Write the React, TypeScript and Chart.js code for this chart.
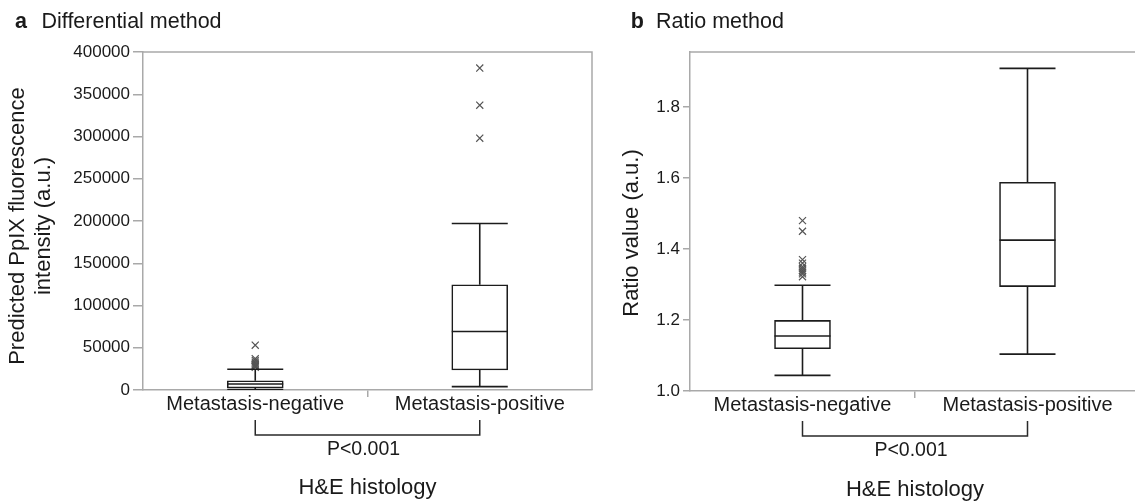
import React, { useEffect, useRef } from 'react';
import { Chart, registerables } from 'chart.js';

Chart.register(...registerables);

// ---------- data ----------
const categories = ['Metastasis-negative', 'Metastasis-positive'];

// Panel a: Differential method (predicted PpIX fluorescence intensity)
const diffWhiskerLow = [500, 4000];
const diffQ1 = [2400, 23700];
const diffMedian = [7100, 69200];
const diffQ3 = [11000, 124600];
const diffWhiskerHigh = [24500, 197000];
const diffOutliersNeg = [53000, 37000, 35000, 33000, 31500, 30000, 29000, 28000, 27000];
const diffOutliersPos = [381000, 337000, 298000];
const diffYTicks = [0, 50000, 100000, 150000, 200000, 250000, 300000, 350000, 400000];

// Panel b: Ratio method
const ratioWhiskerLow = [1.044, 1.104];
const ratioQ1 = [1.119, 1.294];
const ratioMedian = [1.155, 1.425];
const ratioQ3 = [1.199, 1.588];
const ratioWhiskerHigh = [1.298, 1.909];
const ratioOutliersNeg = [1.48, 1.45, 1.37, 1.36, 1.35, 1.345, 1.34, 1.335, 1.33, 1.322];
const ratioOutliersPos: number[] = [];
const ratioYTicks = [1.0, 1.2, 1.4, 1.6, 1.8];

const pValueText = 'P<0.001';
const xTitle = 'H&E histology';

// ---------- style ----------
const FONT = "'Liberation Sans', Arial, Helvetica, sans-serif";
const AXIS = '#a9a9a9';
const BOX = '#1c1c1c';
const OUT = '#555555';
const TEXT = '#1a1a1a';

type Panel = {
  lo: number[]; q1: number[]; med: number[]; q3: number[]; hi: number[];
  outNeg: number[]; outPos: number[];
  yTicks: number[]; yMin: number; yMax: number; fmt: (v: number) => string;
  letter: string; title: string; letterX: number; titleX: number;
  yTitle: string[]; yTitleX: number[]; yTitleY: number;
  width: number; yAxisWidth: number; xAxisHeight: number; padRight: number;
  tickLen: number; xTitlePad: number;
};

function buildDatasets(p: Panel): any[] {
  const ds: any[] = [];
  ds.push({
    type: 'bar',
    data: categories.map((_, i) => [p.q1[i], p.q3[i]]),
    backgroundColor: '#ffffff',
    borderColor: BOX,
    borderWidth: 1.6,
    borderSkipped: false,
    barThickness: 56,
    order: 5,
  });
  categories.forEach((c, i) => {
    ds.push({
      type: 'line',
      data: [{ x: c, y: p.q3[i] }, { x: c, y: p.hi[i] }],
      borderColor: BOX, borderWidth: 1.6, pointRadius: 0, order: 2,
    });
    ds.push({
      type: 'line',
      data: [{ x: c, y: p.lo[i] }, { x: c, y: p.q1[i] }],
      borderColor: BOX, borderWidth: 1.6, pointRadius: 0, order: 2,
    });
  });
  ds.push({
    type: 'line',
    showLine: false,
    data: categories.flatMap((c, i) => [
      { x: c, y: p.lo[i] }, { x: c, y: p.hi[i] }, { x: c, y: p.med[i] },
    ]),
    pointStyle: 'line',
    pointRadius: 28,
    pointHoverRadius: 28,
    pointBorderWidth: 1.6,
    pointBorderColor: BOX,
    order: 0,
  });
  ds.push({
    type: 'line',
    showLine: false,
    data: [
      ...p.outNeg.map((v) => ({ x: categories[0], y: v })),
      ...p.outPos.map((v) => ({ x: categories[1], y: v })),
    ],
    pointStyle: 'crossRot',
    pointRadius: 5,
    pointBorderWidth: 1.2,
    pointBorderColor: OUT,
    order: 0,
  });
  return ds;
}

function decorPlugin(p: Panel) {
  return {
    id: 'decor',
    afterDraw(chart: any) {
      const { ctx, chartArea: a, scales } = chart;
      ctx.save();
      // frame (top and right)
      ctx.strokeStyle = AXIS;
      ctx.lineWidth = 1.5;
      ctx.beginPath();
      ctx.moveTo(a.left, a.top);
      ctx.lineTo(a.right, a.top);
      ctx.lineTo(a.right, a.bottom);
      ctx.stroke();
      // significance bracket
      const x0 = scales.x.getPixelForValue(0);
      const x1 = scales.x.getPixelForValue(1);
      const yT = a.bottom + 30;
      const yB = a.bottom + 45;
      ctx.strokeStyle = '#2a2a2a';
      ctx.lineWidth = 1.5;
      ctx.beginPath();
      ctx.moveTo(x0, yT);
      ctx.lineTo(x0, yB);
      ctx.lineTo(x1, yB);
      ctx.lineTo(x1, yT);
      ctx.stroke();
      ctx.fillStyle = TEXT;
      ctx.font = `19.5px ${FONT}`;
      ctx.textAlign = 'center';
      ctx.textBaseline = 'middle';
      ctx.fillText(pValueText, (x0 + x1) / 2 - 4, a.bottom + 60);
      // panel heading
      ctx.textAlign = 'left';
      ctx.textBaseline = 'alphabetic';
      ctx.font = `bold 21.5px ${FONT}`;
      ctx.fillText(p.letter, p.letterX, 28);
      ctx.font = `21.5px ${FONT}`;
      ctx.fillText(p.title, p.titleX, 28);
      // y-axis title
      ctx.font = `22px ${FONT}`;
      ctx.textAlign = 'center';
      ctx.textBaseline = 'middle';
      p.yTitle.forEach((line, i) => {
        ctx.save();
        ctx.translate(p.yTitleX[i], p.yTitleY);
        ctx.rotate(-Math.PI / 2);
        ctx.fillText(line, 0, 0);
        ctx.restore();
      });
      ctx.restore();
    },
  };
}

function BoxPanel({ p, left }: { p: Panel; left: number }) {
  const ref = useRef<HTMLCanvasElement | null>(null);
  useEffect(() => {
    if (!ref.current) return;
    const chart = new Chart(ref.current, {
      type: 'bar',
      data: { labels: categories, datasets: buildDatasets(p) },
      options: {
        animation: false,
        responsive: false,
        devicePixelRatio: 1,
        events: [],
        layout: { autoPadding: false, padding: { top: 52, right: p.padRight, left: 0, bottom: 0 } },
        plugins: { legend: { display: false }, tooltip: { enabled: false } },
        scales: {
          x: {
            type: 'category',
            offset: true,
            afterFit: (s: any) => {
              s.height = p.xAxisHeight;
              s.paddingLeft = 0;
              s.paddingRight = 0;
            },
            border: { display: true, color: AXIS, width: 1.5 },
            grid: {
              offset: true,
              drawOnChartArea: false,
              drawTicks: true,
              tickLength: 7,
              lineWidth: 1.5,
              color: (c: any) => (c.index === 1 ? AXIS : 'rgba(0,0,0,0)'),
            },
            ticks: {
              color: TEXT,
              padding: -5,
              maxRotation: 0,
              autoSkip: false,
              font: { family: FONT, size: 20 },
            },
            title: {
              display: true,
              text: xTitle,
              color: TEXT,
              font: { family: FONT, size: 22 },
              padding: { top: 0, bottom: p.xTitlePad },
            },
          },
          y: {
            type: 'linear',
            min: p.yMin,
            max: p.yMax,
            afterFit: (s: any) => {
              s.width = p.yAxisWidth;
              s.paddingTop = 0;
              s.paddingBottom = 0;
            },
            afterBuildTicks: (s: any) => { s.ticks = p.yTicks.map((v) => ({ value: v })); },
            border: { display: true, color: AXIS, width: 1.5 },
            grid: {
              drawOnChartArea: false,
              drawTicks: true,
              tickLength: p.tickLen,
              lineWidth: 1.5,
              color: AXIS,
            },
            ticks: {
              color: TEXT,
              padding: 3,
              font: { family: FONT, size: 17 },
              callback: (v: any) => p.fmt(Number(v)),
            },
          },
        },
      },
      plugins: [decorPlugin(p)],
    } as any);
    return () => chart.destroy();
  }, [p]);
  return (
    <canvas
      ref={ref}
      width={p.width}
      height={502}
      style={{ position: 'absolute', left, top: 0, width: p.width, height: 502 }}
    />
  );
}

const panelA: Panel = {
  lo: diffWhiskerLow, q1: diffQ1, med: diffMedian, q3: diffQ3, hi: diffWhiskerHigh,
  outNeg: diffOutliersNeg, outPos: diffOutliersPos,
  yTicks: diffYTicks, yMin: 0, yMax: 400000, fmt: (v) => String(Math.round(v)),
  letter: 'a', title: 'Differential method', letterX: 15, titleX: 41.5,
  yTitle: ['Predicted PpIX fluorescence', 'intensity (a.u.)'], yTitleX: [17.5, 44], yTitleY: 226,
  width: 600, yAxisWidth: 143, xAxisHeight: 112, padRight: 8, tickLen: 10, xTitlePad: 0.8,
};

const panelB: Panel = {
  lo: ratioWhiskerLow, q1: ratioQ1, med: ratioMedian, q3: ratioQ3, hi: ratioWhiskerHigh,
  outNeg: ratioOutliersNeg, outPos: ratioOutliersPos,
  yTicks: ratioYTicks, yMin: 1.0, yMax: 1.955, fmt: (v) => v.toFixed(1),
  letter: 'b', title: 'Ratio method', letterX: 30.7, titleX: 56,
  yTitle: ['Ratio value (a.u.)'], yTitleX: [32], yTitleY: 233,
  width: 545, yAxisWidth: 90, xAxisHeight: 111, padRight: 5, tickLen: 7, xTitlePad: -1.2,
};

export default function App() {
  return (
    <div
      style={{
        position: 'absolute', left: 0, top: 0, width: 1135, height: 502,
        overflow: 'hidden', background: '#ffffff',
      }}
    >
      <BoxPanel p={panelA} left={0} />
      <BoxPanel p={panelB} left={600} />
    </div>
  );
}
